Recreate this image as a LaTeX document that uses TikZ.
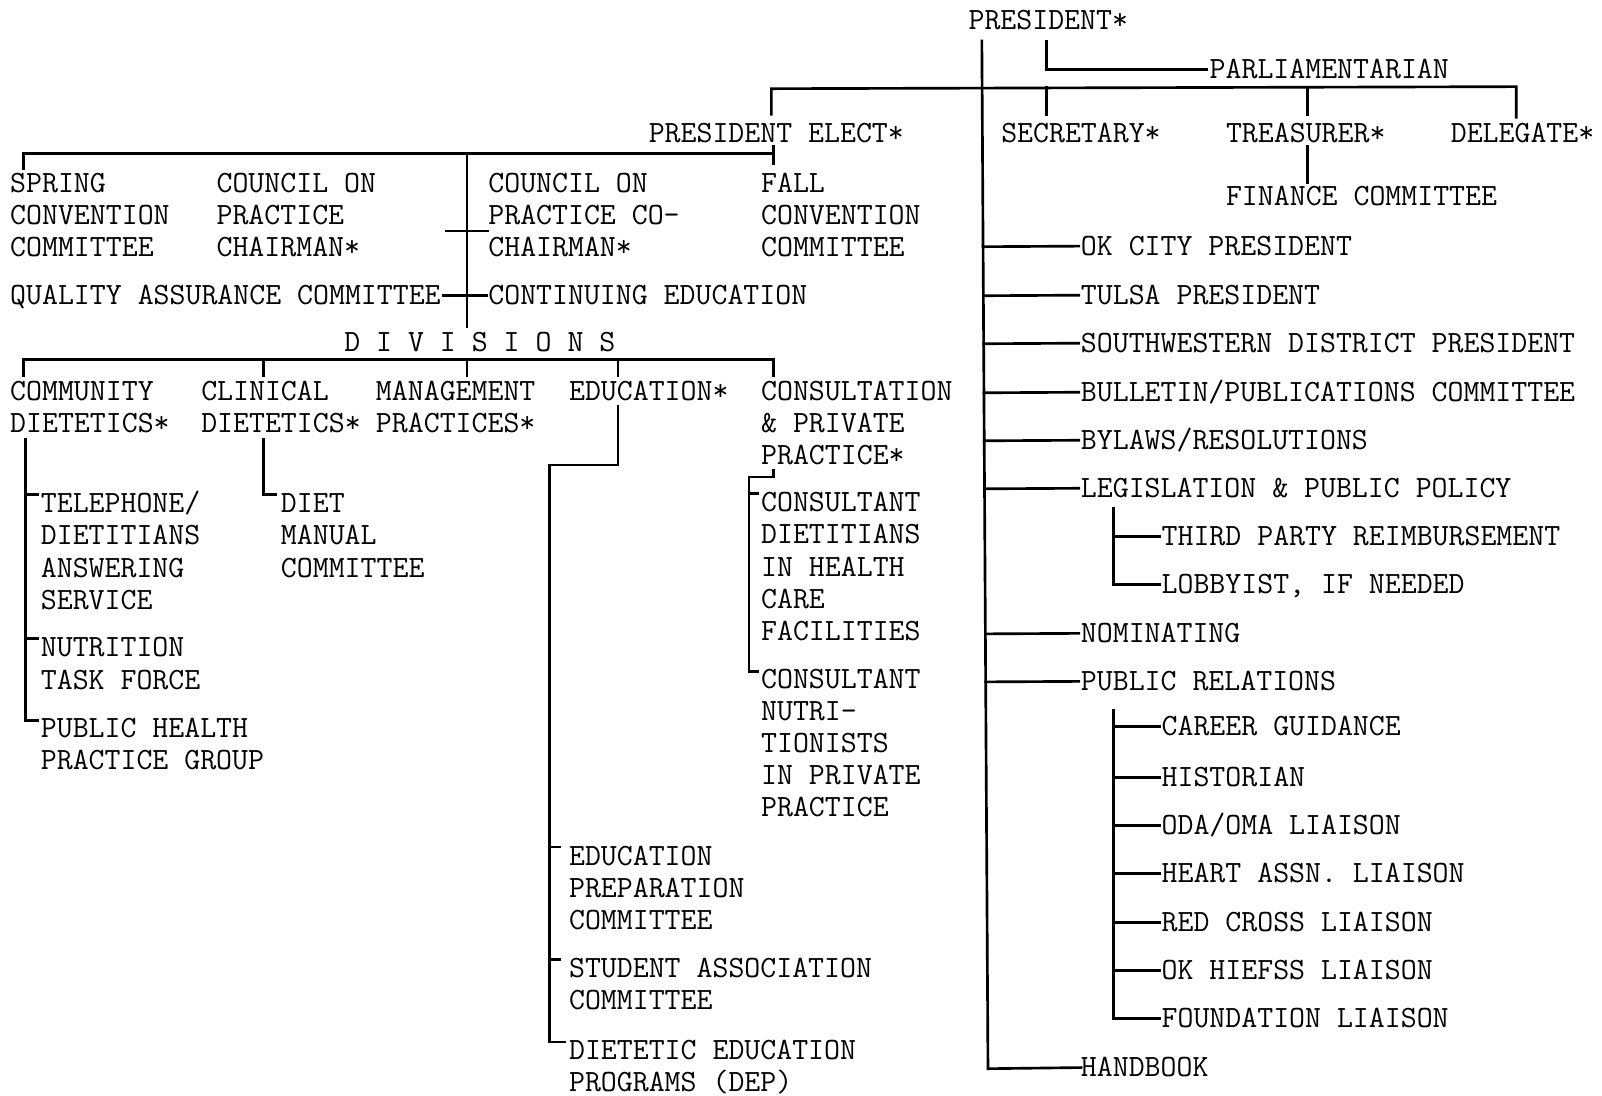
\documentclass[tikz,border=0pt]{standalone}
\usepackage{fontspec}
\usetikzlibrary{calc}
\newcommand\fl{\rule{0pt}{23pt}}
\begin{document}
\begin{tikzpicture}[x=1pt,y=-1pt,
  tfont/.style={font=\ttfamily\fontsize{30.3}{31.4}\selectfont\addfontfeature{FakeBold=1.4}},
  lbl/.style={anchor=north west, inner sep=0pt, outer sep=0pt, align=left, tfont},
  one/.style={anchor=base west, inner sep=0pt, outer sep=0pt, tfont,
    text height=18.2pt, text depth=0pt},
  ln/.style={line width=2.6pt, line cap=rect, line join=miter}]
\useasboundingbox[fill=white] (0,0) rectangle (1568,1072);

% ---------- top ----------
\node[one] (pres) at (948,29) {PRESIDENT*};
\node[one] (parl) at (1184,77) {PARLIAMENTARIAN};
\node[one] (pelect) at (635,139) {PRESIDENT ELECT*};
\node[one] (sec) at (980,139) {SECRETARY*};
\node[one] (treas) at (1200,139) {TREASURER*};
\node[one] (dele) at (1420,139) {DELEGATE*};
\node[one] (fin) at (1200,201) {FINANCE COMMITTEE};

% ---------- president elect branch ----------
\node[lbl] (spring) at (10,165) {\fl SPRING\\CONVENTION\\COMMITTEE};
\node[lbl] (coc) at (212,165) {\fl COUNCIL ON\\PRACTICE\\CHAIRMAN*};
\node[lbl] (cocc) at (478,165) {\fl COUNCIL ON\\PRACTICE CO-\\CHAIRMAN*};
\node[lbl] (fall) at (745,165) {\fl FALL\\CONVENTION\\COMMITTEE};
\node[one] (qa) at (10,298) {QUALITY ASSURANCE COMMITTEE};
\node[one] (ce) at (478,298) {CONTINUING EDUCATION};
\node[one] (div) at (337,344) {D I V I S I O N S};

% ---------- divisions ----------
\node[lbl] (comm) at (10,369) {\fl COMMUNITY\\DIETETICS*};
\node[lbl] (clin) at (197,369) {\fl CLINICAL\\DIETETICS*};
\node[lbl] (mgmt) at (368,369) {\fl MANAGEMENT\\PRACTICES*};
\node[one] (edu) at (557,392) {EDUCATION*};
\node[lbl] (cons) at (745,369) {\fl CONSULTATION\\\& PRIVATE\\PRACTICE*};

\node[lbl] (tel) at (40,479) {\fl TELEPHONE/\\DIETITIANS\\ANSWERING\\SERVICE};
\node[lbl] (ntf) at (40,620) {\fl NUTRITION\\TASK FORCE};
\node[lbl] (phpg) at (40,699) {\fl PUBLIC HEALTH\\PRACTICE GROUP};
\node[lbl] (diet) at (275,479) {\fl DIET\\MANUAL\\COMMITTEE};
\node[lbl] (cdh) at (745,478) {\fl CONSULTANT\\DIETITIANS\\IN HEALTH\\CARE\\FACILITIES};
\node[lbl] (cnp) at (745,651) {\fl CONSULTANT\\NUTRI-\\TIONISTS\\IN PRIVATE\\PRACTICE};
\node[lbl] (epc) at (557,824) {\fl EDUCATION\\PREPARATION\\COMMITTEE};
\node[lbl] (sac) at (557,934) {\fl STUDENT ASSOCIATION\\COMMITTEE};
\node[lbl] (dep) at (557,1014) {\fl DIETETIC EDUCATION\\PROGRAMS (DEP)};

% ---------- right column ----------
\node[one] (okc) at (1058,250) {OK CITY PRESIDENT};
\node[one] (tul) at (1058,298) {TULSA PRESIDENT};
\node[one] (swd) at (1058,345) {SOUTHWESTERN DISTRICT PRESIDENT};
\node[one] (bul) at (1058,393) {BULLETIN/PUBLICATIONS COMMITTEE};
\node[one] (byl) at (1058,440) {BYLAWS/RESOLUTIONS};
\node[one] (leg) at (1058,487) {LEGISLATION \& PUBLIC POLICY};
\node[one] (tpr) at (1137,534) {THIRD PARTY REIMBURSEMENT};
\node[one] (lob) at (1137,581) {LOBBYIST, IF NEEDED};
\node[one] (nom) at (1058,629) {NOMINATING};
\node[one] (pr) at (1058,676) {PUBLIC RELATIONS};
\node[one] (car) at (1137,720) {CAREER GUIDANCE};
\node[one] (his) at (1137,770) {HISTORIAN};
\node[one] (oda) at (1137,817) {ODA/OMA LIAISON};
\node[one] (hea) at (1137,864) {HEART ASSN. LIAISON};
\node[one] (red) at (1137,912) {RED CROSS LIAISON};
\node[one] (okh) at (1137,959) {OK HIEFSS LIAISON};
\node[one] (fou) at (1137,1006) {FOUNDATION LIAISON};
\node[one] (hb) at (1058,1054) {HANDBOOK};

% ================= connectors =================
% main vertical line from president
\coordinate (vt) at ($(pres.base west)+(13,11)$);
\coordinate (vb) at (967,1046);
\draw[ln] (vt) -- (vb) -- (hb.west);
\foreach \n in {okc,tul,swd,bul,byl,leg,nom,pr}
  \draw[ln,shorten >=2pt] ($(vt)!(\n.west)!(vb)$) -- (\n.west);

% parliamentarian
\draw[ln,shorten >=3pt] ($(pres.base west)+(76,11)$) |- (parl.west);

% officers bar
\draw[ln] ($(pelect.north west)+(120,-9)$) -- ++(0,-25)
  -- ($(dele.north west)+(64,-36)$) -- ++(0,30);
\draw[ln] ($(sec.north west)+(44,-9)$) -- ++(0,-26);
\draw[ln] ($(treas.north west)+(80,-9)$) -- ++(0,-26);
\draw[ln] ($(treas.south west)+(80,4)$) -- ($(fin.north west)+(80,-4)$);

% president elect sub-bar
\draw[ln] ($(pelect.south west)+(122,4)$) -- ($(fall.north west)+(12,-5)$);
\draw[ln] ($(spring.north west)+(13,0)$) |- ($(pelect.south west)+(122,11)$);
\draw[ln] ($(pelect.south west)+(-178,11)$) -- ($(div.north west)+(120,-6)$);
\draw[ln] ($(cocc.north west)+(-41,61)$) -- ++(40,0);
\draw[ln,shorten <=3pt,shorten >=2pt] (qa.east) -- (ce.west);

% divisions bar
\draw[ln] ($(comm.north west)+(13,-1)$) |- ($(cons.north west)+(12,-17)$) -- ++(0,16);
\draw[ln] ($(clin.north west)+(61,-1)$) -- ++(0,-16);
\draw[ln] ($(mgmt.north west)+(89,-1)$) -- ++(0,-16);
\draw[ln] ($(edu.base west)+(48,-24)$) -- ++(0,-16);

% community
\draw[ln] ($(comm.north west)+(15,61)$) |- ($(phpg.north west)+(-3,6)$);
\draw[ln] ($(tel.north west)+(-15,5)$) -- ++(12,0);
\draw[ln] ($(ntf.north west)+(-15,5)$) -- ++(12,0);

% clinical
\draw[ln] ($(clin.north west)+(61,61)$) |- ($(diet.north west)+(-5,5)$);

% education
\draw[ln] ($(edu.base west)+(48,6)$) -- ++(0,57) -| ($(dep.north west)+(-19,6)$) -- ++(15,0);
\draw[ln] ($(epc.north west)+(-19,5)$) -- ++(10,0);
\draw[ln] ($(sac.north west)+(-19,5)$) -- ++(10,0);

% consultation
\draw[ln] ($(cons.north west)+(12,91)$) -- ++(0,7) -| ($(cnp.north west)+(-12,6)$) -- ++(9,0);
\draw[ln] ($(cdh.north west)+(-12,5)$) -- ++(9,0);

% legislation
\coordinate (legx) at ($(leg.base west)+(32,11)$);
\draw[ln,shorten >=2pt] (legx) |- (lob.west);
\draw[ln,shorten >=2pt] (legx |- tpr.west) -- (tpr.west);

% public relations
\coordinate (prx) at ($(pr.base west)+(32,19)$);
\draw[ln,shorten >=2pt] (prx) |- (fou.west);
\foreach \n in {car,his,oda,hea,red,okh}
  \draw[ln,shorten >=2pt] (prx |- \n.west) -- (\n.west);
\end{tikzpicture}
\end{document}
